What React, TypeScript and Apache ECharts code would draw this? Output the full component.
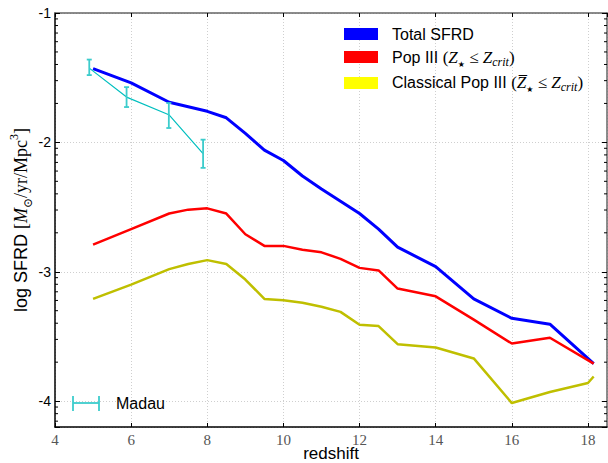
import React, { useEffect, useRef } from "react";
import * as echarts from "echarts";

// Star formation rate density, log10 [M_sun / yr / Mpc^3], versus redshift
const totalZ = [5, 6, 7, 8, 8.5, 9, 9.5, 10, 10.5, 11, 11.5, 12, 12.5, 13, 14, 15, 16, 17, 18.15];
const totalSFRD = [-1.43, -1.54, -1.69, -1.76, -1.81, -1.93, -2.06, -2.14, -2.26, -2.36, -2.455, -2.55, -2.67, -2.81, -2.96, -3.21, -3.36, -3.405, -3.71];

const popIIIZ = [5, 6, 7, 7.5, 8, 8.5, 9, 9.5, 10, 10.5, 11, 11.5, 12, 12.5, 13, 14, 15, 16, 17, 18.15];
const popIIISFRD = [-2.79, -2.67, -2.55, -2.52, -2.51, -2.55, -2.71, -2.8, -2.8, -2.83, -2.85, -2.9, -2.97, -2.99, -3.13, -3.19, -3.37, -3.555, -3.51, -3.71];

const classicalZ = [5, 6, 7, 7.5, 8, 8.5, 9, 9.5, 10, 10.5, 11, 11.5, 12, 12.5, 13, 14, 15, 16, 17, 18, 18.15];
const classicalSFRD = [-3.21, -3.1, -2.98, -2.94, -2.91, -2.94, -3.06, -3.21, -3.22, -3.24, -3.27, -3.31, -3.41, -3.42, -3.56, -3.585, -3.67, -4.015, -3.93, -3.86, -3.81];

// Madau observational estimates with error bars
const madauZ = [4.9, 5.88, 6.99, 7.89];
const madauSFRD = [-1.426, -1.65, -1.786, -2.087];
const madauLow = [-1.48, -1.727, -1.889, -2.197];
const madauHigh = [-1.36, -1.573, -1.696, -1.979];

// Axis ranges and the log-style minor tick multipliers used on the y spines
const xRange = [4, 18.5];
const yRange = [-4.2, -1];
const minorMultipliers = [2, 3, 4, 5, 6, 7, 8, 9];
const decades = [-5, -4, -3, -2];

const pairs = (xs: number[], ys: number[]) => xs.map((x, i) => [x, ys[i]]);

const SANS = "Liberation Sans";
const SERIF = "Liberation Serif";

const minorTickValues = decades
  .flatMap((d) => minorMultipliers.map((k) => d + Math.log10(k)))
  .filter((v) => v > yRange[0] && v < yRange[1]);

const mathRich = {
  s: { fontFamily: SANS, fontSize: 16, color: "#000", lineHeight: 22 },
  m: { fontFamily: SERIF, fontSize: 17, color: "#000", lineHeight: 22 },
  mi: { fontFamily: SERIF, fontStyle: "italic", fontSize: 17, color: "#000", lineHeight: 22 },
  sb: { fontFamily: "DejaVu Sans", fontSize: 8, color: "#000", verticalAlign: "bottom", lineHeight: 20 },
  sbi: { fontFamily: SERIF, fontStyle: "italic", fontSize: 12, color: "#000", verticalAlign: "bottom", lineHeight: 22 },
};

export default function App() {
  const ref = useRef<HTMLDivElement>(null);

  useEffect(() => {
    if (!ref.current) return;
    const chart = echarts.init(ref.current, undefined, { renderer: "svg" });

    const spineGrey = "#666";
    const option: any = {
      animation: false,
      backgroundColor: "#fff",
      grid: { left: 55, right: 1, top: 13, bottom: 36, containLabel: false, outerBoundsMode: "none" },
      xAxis: [
        {
          type: "value",
          min: xRange[0],
          max: xRange[1],
          interval: 2,
          position: "bottom",
          axisLine: { show: true, onZero: false, lineStyle: { color: "#000", width: 1.5 } },
          axisTick: { show: true, inside: true, length: 4, lineStyle: { color: "#000" } },
          axisLabel: {
            fontFamily: SERIF,
            fontSize: 15,
            color: "#555",
            margin: 5,
            showMaxLabel: false,
            formatter: (v: number) => (v % 2 === 0 ? String(v) : ""),
          },
          splitLine: { show: true, lineStyle: { color: "#cfcfcf", type: [1, 2], width: 1 } },
          name: "redshift",
          nameLocation: "middle",
          nameGap: 18,
          nameMoveOverlap: false,
          nameTextStyle: { fontFamily: SANS, fontSize: 17, color: "#000", lineHeight: 17 },
        },
        {
          type: "value",
          min: xRange[0],
          max: xRange[1],
          interval: 2,
          position: "top",
          axisLine: { show: true, onZero: false, lineStyle: { color: spineGrey, width: 1.5 } },
          axisTick: { show: true, inside: true, length: 4, lineStyle: { color: "#000" } },
          axisLabel: { show: false },
          splitLine: { show: false },
        },
      ],
      yAxis: [
        {
          type: "value",
          min: yRange[0],
          max: yRange[1],
          splitNumber: 3,
          position: "left",
          axisLine: { show: true, onZero: false, lineStyle: { color: "#000", width: 1.5 } },
          axisTick: { show: true, inside: true, length: 5, lineStyle: { color: "#000" } },
          axisLabel: {
            fontFamily: SANS,
            fontSize: 14,
            color: "#000",
            margin: 4,
            formatter: (v: number) => (Number.isInteger(v) ? String(v) : ""),
          },
          splitLine: { show: true, lineStyle: { color: "#cfcfcf", type: [1, 2], width: 1 } },
          name: "{a|log SFRD }{b|[}{i|M}{sub|⊙}{b|/yr/Mpc}{sup|3}{b|]}",
          nameLocation: "middle",
          nameRotate: 90,
          nameGap: 21,
          nameMoveOverlap: false,
          nameTextStyle: {
            rich: {
              a: { fontFamily: SANS, fontSize: 18, color: "#000", lineHeight: 26 },
              b: { fontFamily: SERIF, fontSize: 18, color: "#000", lineHeight: 26 },
              i: { fontFamily: SERIF, fontStyle: "italic", fontSize: 18, color: "#000", lineHeight: 26 },
              sub: { fontFamily: "DejaVu Serif", fontSize: 12, color: "#000", verticalAlign: "bottom", lineHeight: 26 },
              sup: { fontFamily: SERIF, fontSize: 12, color: "#000", verticalAlign: "top", lineHeight: 26 },
            },
          },
        },
        {
          type: "value",
          min: yRange[0],
          max: yRange[1],
          splitNumber: 3,
          position: "right",
          axisLine: { show: true, onZero: false, lineStyle: { color: spineGrey, width: 1.5 } },
          axisTick: { show: true, inside: true, length: 5, lineStyle: { color: "#000" } },
          axisLabel: { show: false },
          splitLine: { show: false },
        },
      ],
      series: [
        {
          type: "line",
          name: "Total SFRD",
          data: pairs(totalZ, totalSFRD),
          showSymbol: false,
          lineStyle: { color: "#0000ff", width: 3 },
          itemStyle: { color: "#0000ff" },
          z: 3,
        },
        {
          type: "line",
          name: "Pop III",
          data: pairs(popIIIZ, popIIISFRD),
          showSymbol: false,
          lineStyle: { color: "#ff0000", width: 2.5 },
          itemStyle: { color: "#ff0000" },
          z: 3,
        },
        {
          type: "line",
          name: "Classical Pop III",
          data: pairs(classicalZ, classicalSFRD),
          showSymbol: false,
          lineStyle: { color: "#bfbf00", width: 2.5 },
          itemStyle: { color: "#bfbf00" },
          z: 3,
        },
        {
          type: "line",
          name: "Madau",
          data: pairs(madauZ, madauSFRD),
          showSymbol: false,
          lineStyle: { color: "#00bfbf", width: 1.2 },
          itemStyle: { color: "#00bfbf" },
          z: 4,
        },
        {
          type: "custom",
          name: "Madau error",
          data: madauZ.map((x, i) => [x, madauLow[i], madauHigh[i]]),
          encode: { x: 0, y: [1, 2] },
          z: 5,
          renderItem: (params: any, api: any) => {
            const x = api.value(0);
            const lo = api.coord([x, api.value(1)]);
            const hi = api.coord([x, api.value(2)]);
            const cap = 2.5;
            const st = { stroke: "#3ccccc", lineWidth: 1.8 };
            return {
              type: "group",
              children: [
                { type: "line", shape: { x1: lo[0], y1: lo[1], x2: hi[0], y2: hi[1] }, style: st },
                { type: "line", shape: { x1: lo[0] - cap, y1: lo[1], x2: lo[0] + cap, y2: lo[1] }, style: st },
                { type: "line", shape: { x1: hi[0] - cap, y1: hi[1], x2: hi[0] + cap, y2: hi[1] }, style: st },
              ],
            };
          },
        },
        {
          type: "custom",
          name: "minor ticks",
          data: minorTickValues.map((v) => [xRange[0], v]),
          z: 6,
          silent: true,
          clip: false,
          renderItem: (params: any, api: any) => {
            const l = api.coord([xRange[0], api.value(1)]);
            const r = api.coord([xRange[1], api.value(1)]);
            const len = 3;
            return {
              type: "group",
              children: [
                { type: "line", shape: { x1: l[0], y1: l[1], x2: l[0] + len, y2: l[1] }, style: { stroke: "#000", lineWidth: 1 } },
                { type: "line", shape: { x1: r[0] - len, y1: r[1], x2: r[0], y2: r[1] }, style: { stroke: "#000", lineWidth: 1 } },
              ],
            };
          },
        },
      ],
      graphic: [
        { type: "rect", shape: { x: 344, y: 28, width: 34, height: 12 }, style: { fill: "#0000ff" }, z: 10 },
        { type: "rect", shape: { x: 344, y: 51, width: 34, height: 12 }, style: { fill: "#ff0000" }, z: 10 },
        { type: "rect", shape: { x: 344, y: 77, width: 34, height: 12 }, style: { fill: "#ffff00" }, z: 10 },
        {
          type: "text",
          x: 392,
          y: 34,
          z: 10,
          style: { text: "Total SFRD", fontFamily: SANS, fontSize: 16, fill: "#000", verticalAlign: "middle" },
        },
        {
          type: "text",
          x: 392,
          y: 57,
          z: 10,
          style: {
            text: "{s|Pop III }{m|(}{mi|Z}{sb|★}{m| ≤ }{mi|Z}{sbi|crit}{m|)}",
            rich: mathRich,
            verticalAlign: "middle",
          },
        },
        {
          type: "text",
          x: 392,
          y: 82,
          z: 10,
          style: {
            text: "{s|Classical Pop III }{m|(}{mi|Z\u0305}{sb|★}{m| ≤ }{mi|Z}{sbi|crit}{m|)}",
            rich: mathRich,
            verticalAlign: "middle",
          },
        },
        // Madau legend entry: an error-bar glyph and its label
        { type: "line", shape: { x1: 73, y1: 403, x2: 99, y2: 403 }, style: { stroke: "#3ccccc", lineWidth: 1.8 }, z: 10 },
        { type: "line", shape: { x1: 73, y1: 396, x2: 73, y2: 411 }, style: { stroke: "#3ccccc", lineWidth: 1.8 }, z: 10 },
        { type: "line", shape: { x1: 99, y1: 396, x2: 99, y2: 411 }, style: { stroke: "#3ccccc", lineWidth: 1.8 }, z: 10 },
        {
          type: "text",
          x: 116,
          y: 403,
          z: 10,
          style: { text: "Madau", fontFamily: SANS, fontSize: 16, fill: "#000", verticalAlign: "middle" },
        },
      ],
    };

    chart.setOption(option);
    return () => chart.dispose();
  }, []);

  return <div ref={ref} style={{ width: 608, height: 463, position: "absolute", left: 0, top: 0 }} />;
}
